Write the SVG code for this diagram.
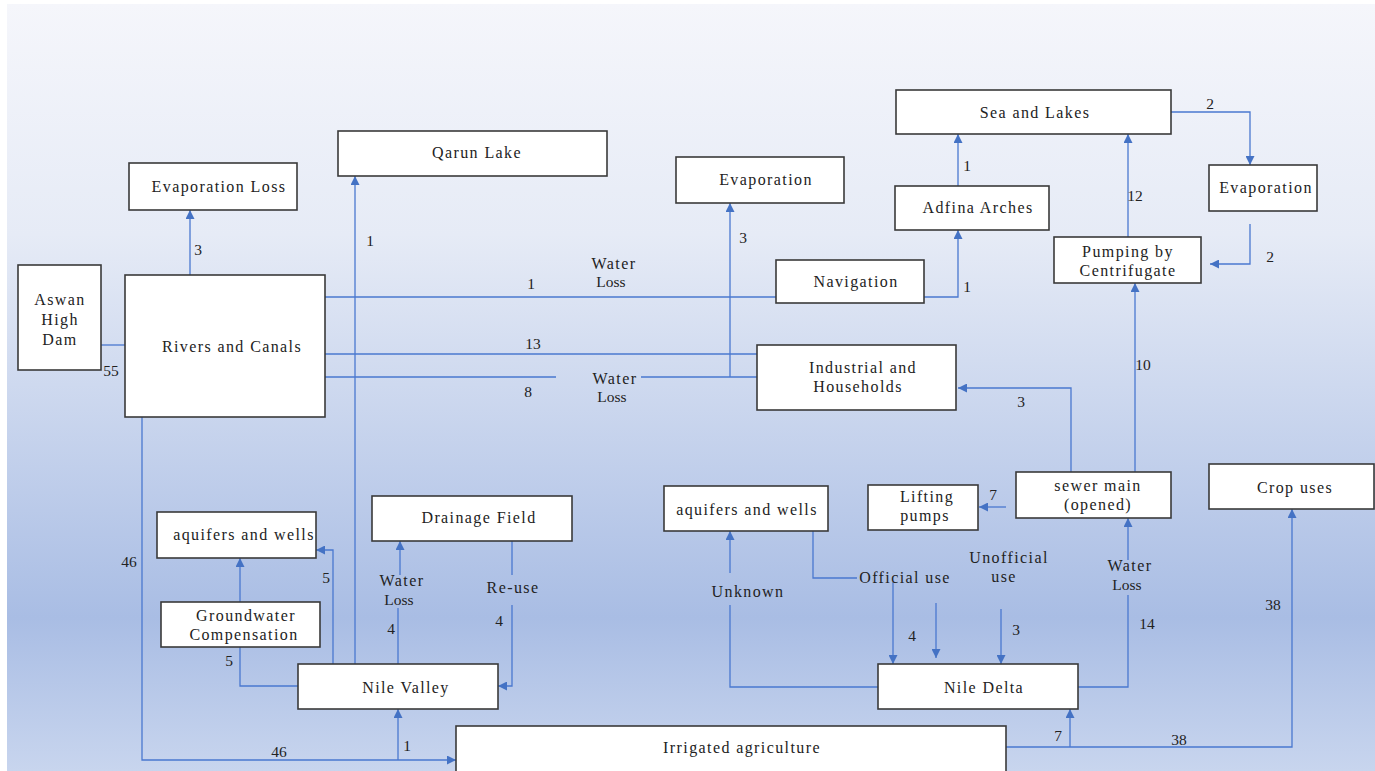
<svg xmlns="http://www.w3.org/2000/svg" width="1375" height="771" viewBox="0 0 1375 771">
<defs>
<linearGradient id="bg" x1="0" y1="4" x2="0" y2="771" gradientUnits="userSpaceOnUse">
<stop offset="0" stop-color="#f5f6fb"/>
<stop offset="0.3" stop-color="#e6ebf6"/>
<stop offset="0.8" stop-color="#a9bde4"/>
<stop offset="1" stop-color="#c8d5ee"/>
</linearGradient>
<marker id="ah" viewBox="0 0 10 10" refX="10" refY="5" markerWidth="9" markerHeight="9" markerUnits="userSpaceOnUse" orient="auto">
<path d="M0,0 L10,5 L0,10 z" fill="#4472c4"/>
</marker>
<style>
.box{fill:#fff;stroke:#3a3a3a;stroke-width:1.6}
.t{font-family:'Liberation Serif',serif;font-size:16px;fill:#222;letter-spacing:1.4px;text-anchor:middle}
.n{font-family:'Liberation Serif',serif;font-size:15.5px;fill:#222;text-anchor:middle}
.c{fill:none;stroke:#4a78cf;stroke-width:1.3}
.a{marker-end:url(#ah)}
</style>
</defs>
<rect x="0" y="0" width="1375" height="771" fill="#fff"/>
<rect x="7" y="4" width="1368" height="767" fill="url(#bg)"/>

<g id="connectors">
<path class="c" d="M101,345 H125"/>
<path class="c a" d="M190,275 V210"/>
<path class="c a" d="M355,664 V176"/>
<path class="c" d="M325,297 H776"/>
<path class="c" d="M325,354 H757"/>
<path class="c" d="M325,377 H556 M641,377 H757"/>
<path class="c a" d="M730,377 V203"/>
<path class="c a" d="M924,297 H958 V230"/>
<path class="c a" d="M958,186 V134"/>
<path class="c a" d="M1171,112 H1250 V165"/>
<path class="c a" d="M1250,224 V264 H1210"/>
<path class="c a" d="M1128,237 V134"/>
<path class="c a" d="M1135,472 V283"/>
<path class="c a" d="M1071,472 V388 H958"/>
<path class="c a" d="M1006,507 H979"/>
<path class="c" d="M1078,687 H1128 V595"/>
<path class="c a" d="M1128,560 V518"/>
<path class="c a" d="M1006,747 H1292 V509"/>
<path class="c a" d="M1070,747 V709"/>
<path class="c a" d="M142,417 V760 H456"/>
<path class="c a" d="M398,760 V709"/>
<path class="c a" d="M333,664 V550 H316"/>
<path class="c" d="M298,686 H240 V647"/>
<path class="c a" d="M240,602 V558"/>
<path class="c" d="M398,664 V608"/>
<path class="c a" d="M400,575 V541"/>
<path class="c" d="M512,541 V575"/>
<path class="c a" d="M512,605 V686 H498"/>
<path class="c" d="M878,687 H730 V605"/>
<path class="c a" d="M730,573 V531"/>
<path class="c" d="M813,531 V578 H857"/>
<path class="c a" d="M893,582 V664"/>
<path class="c a" d="M936,603 V658"/>
<path class="c a" d="M1001,609 V664"/>
</g>

<g id="labels">
<text class="n" x="111" y="376">55</text>
<text class="n" x="198" y="255">3</text>
<text class="n" x="370" y="246">1</text>
<text class="n" x="531" y="289">1</text>
<text class="t" x="614" y="269">Water</text>
<text class="n" x="611" y="287">Loss</text>
<text class="n" x="533" y="349">13</text>
<text class="n" x="528" y="397">8</text>
<text class="t" x="615" y="384">Water</text>
<text class="n" x="612" y="402">Loss</text>
<text class="n" x="743" y="243">3</text>
<text class="n" x="967" y="292">1</text>
<text class="n" x="967" y="171">1</text>
<text class="n" x="1210" y="109">2</text>
<text class="n" x="1270" y="262">2</text>
<text class="n" x="1135" y="201">12</text>
<text class="n" x="1143" y="370">10</text>
<text class="n" x="1021" y="407">3</text>
<text class="n" x="993" y="500">7</text>
<text class="t" x="1130" y="571">Water</text>
<text class="n" x="1127" y="590">Loss</text>
<text class="n" x="1147" y="629">14</text>
<text class="n" x="1273" y="610">38</text>
<text class="n" x="1179" y="745">38</text>
<text class="n" x="1058" y="741">7</text>
<text class="n" x="129" y="567">46</text>
<text class="n" x="279" y="757">46</text>
<text class="n" x="407" y="751">1</text>
<text class="n" x="326" y="583">5</text>
<text class="n" x="229" y="666">5</text>
<text class="t" x="402" y="586">Water</text>
<text class="n" x="399" y="605">Loss</text>
<text class="n" x="391" y="634">4</text>
<text class="t" x="513" y="593">Re-use</text>
<text class="n" x="499" y="626">4</text>
<text class="t" x="748" y="597">Unknown</text>
<text class="t" x="905" y="583">Official use</text>
<text class="n" x="912" y="641">4</text>
<text class="t" x="1009" y="563">Unofficial</text>
<text class="t" x="1004" y="582">use</text>
<text class="n" x="1016" y="635">3</text>
</g>

<g id="aswan"><rect class="box" x="18" y="265" width="83" height="105"/>
<text class="t" x="60" y="305">Aswan</text><text class="t" x="60" y="325">High</text><text class="t" x="60" y="345">Dam</text></g>
<g id="rivers"><rect class="box" x="125" y="275" width="200" height="142"/>
<text class="t" x="232" y="352">Rivers and Canals</text></g>
<g id="evap-loss"><rect class="box" x="129" y="163" width="168" height="47"/>
<text class="t" x="219" y="192">Evaporation Loss</text></g>
<g id="qarun"><rect class="box" x="338" y="131" width="269" height="45"/>
<text class="t" x="477" y="158">Qarun Lake</text></g>
<g id="evap-mid"><rect class="box" x="676" y="157" width="168" height="46"/>
<text class="t" x="766" y="185">Evaporation</text></g>
<g id="sea"><rect class="box" x="896" y="90" width="275" height="44"/>
<text class="t" x="1035" y="118">Sea and Lakes</text></g>
<g id="adfina"><rect class="box" x="895" y="186" width="154" height="44"/>
<text class="t" x="978" y="213">Adfina Arches</text></g>
<g id="evap-right"><rect class="box" x="1209" y="165" width="108" height="46"/>
<text class="t" x="1266" y="193">Evaporation</text></g>
<g id="pumping"><rect class="box" x="1054" y="237" width="147" height="46"/>
<text class="t" x="1128" y="257">Pumping by</text><text class="t" x="1128" y="276">Centrifugate</text></g>
<g id="navigation"><rect class="box" x="776" y="260" width="148" height="43"/>
<text class="t" x="856" y="287">Navigation</text></g>
<g id="industrial"><rect class="box" x="757" y="345" width="199" height="65"/>
<text class="t" x="863" y="373">Industrial and</text><text class="t" x="858" y="392">Households</text></g>
<g id="sewer"><rect class="box" x="1016" y="472" width="155" height="46"/>
<text class="t" x="1098" y="491">sewer main</text><text class="t" x="1098" y="510">(opened)</text></g>
<g id="lifting"><rect class="box" x="868" y="485" width="110" height="45"/>
<text class="t" x="927" y="502">Lifting</text><text class="t" x="925" y="521">pumps</text></g>
<g id="aquifers-right"><rect class="box" x="664" y="486" width="164" height="45"/>
<text class="t" x="747" y="515">aquifers and wells</text></g>
<g id="crop"><rect class="box" x="1209" y="464" width="165" height="45"/>
<text class="t" x="1295" y="493">Crop uses</text></g>
<g id="aquifers-left"><rect class="box" x="157" y="512" width="159" height="46"/>
<text class="t" x="244" y="540">aquifers and wells</text></g>
<g id="drainage"><rect class="box" x="372" y="496" width="200" height="45"/>
<text class="t" x="479" y="523">Drainage Field</text></g>
<g id="groundwater"><rect class="box" x="161" y="602" width="159" height="45"/>
<text class="t" x="246" y="621">Groundwater</text><text class="t" x="244" y="640">Compensation</text></g>
<g id="nile-valley"><rect class="box" x="298" y="664" width="200" height="45"/>
<text class="t" x="406" y="693">Nile Valley</text></g>
<g id="nile-delta"><rect class="box" x="878" y="664" width="200" height="45"/>
<text class="t" x="984" y="693">Nile Delta</text></g>
<g id="irrigated"><rect class="box" x="456" y="726" width="550" height="46"/>
<text class="t" x="742" y="753">Irrigated agriculture</text></g>
</svg>
